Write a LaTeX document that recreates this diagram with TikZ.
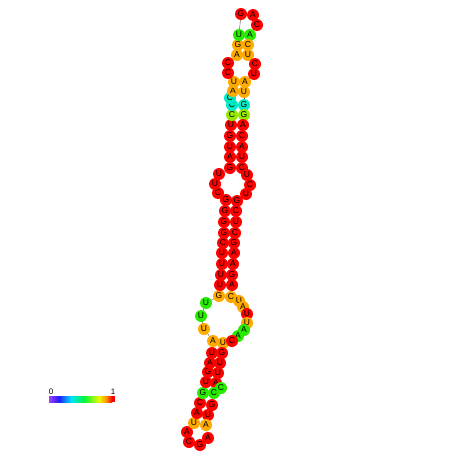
\documentclass[tikz,border=0pt]{standalone}
\usepackage{fontspec}
\setmainfont{Liberation Sans}
\usetikzlibrary{backgrounds}
\definecolor{cR}{RGB}{255,0,0}
\definecolor{cO}{RGB}{255,170,0}
\definecolor{cG}{RGB}{40,235,0}
\definecolor{cC}{RGB}{0,235,195}
\definecolor{cY}{RGB}{150,230,0}
\definecolor{cV}{RGB}{165,60,255}
\definecolor{cB}{RGB}{30,30,255}
\definecolor{cCy}{RGB}{0,225,255}
\definecolor{cGr}{RGB}{0,245,60}
\definecolor{cYe}{RGB}{235,250,0}
\definecolor{cOr}{RGB}{255,150,0}
\tikzset{
  nt/.style={circle, inner sep=0pt, minimum size=12pt, text=black,
    font=\fontsize{8.5}{8.5}\selectfont},
  bond/.style={draw=black!70, line width=0.4pt},
  lbl/.style={font=\fontsize{8}{8}\selectfont, inner sep=0pt}
}
\begin{document}
\begin{tikzpicture}[x=1pt,y=-1pt]
\useasboundingbox (0,0) rectangle (452,452);
\foreach \n/\x/\y/\c/\t in {
1/223/343/cO/U, 2/222/353/cR/G, 3/220/363/cR/U, 4/218/373/cR/U, 5/216/383/cR/A,
6/221/388/cG/C, 7/214/393/cG/C, 8/212/405/cR/G, 9/208/415/cR/U, 10/206/425/cO/A,
11/208/438/cR/A, 12/200/445/cR/G, 13/189/442/cR/C, 14/187/432/cR/A, 15/194/423/cO/U,
16/197/413/cR/A, 17/200/403/cR/C, 18/203/393/cG/G, 19/206/382/cR/U, 20/208/372/cR/G,
21/210/363/cR/A, 22/212/353/cR/U, 23/213/341/cO/A, 24/204/329/cO/U, 25/201/316/cG/U,
26/206/303/cG/U, 27/219/296/cO/G, 28/220/285/cR/U, 29/221/275/cR/U, 30/222/264/cR/U,
31/222/253/cR/U, 32/223/243/cR/C, 33/224/233/cR/G, 34/224/222/cR/G, 35/225/211/cR/G,
36/226/200/cR/G, 37/218/193/cR/C, 38/215/184/cR/U, 39/219/174/cR/U, 40/230/168/cR/G,
41/230/157/cR/A, 42/230/147/cR/U, 43/230/136/cR/G, 44/231/125/cR/U, 45/232/115/cY/C,
46/232/105/cC/C, 47/230/98/cC/C, 48/233/91/cO/A, 49/234/82/cO/U, 50/228/73/cR/C,
51/228/63/cR/C, 52/237/55/cO/A, 53/238/45/cO/G, 54/239/35/cG/U, 55/241/14/cR/G,
56/253/15/cR/A, 57/257/25/cR/C, 58/250/35/cG/A, 59/248/45/cO/C, 60/248/55/cO/U,
61/255/64/cR/C, 62/254/74/cR/U, 63/245/82/cO/A, 64/244/92/cO/U, 65/244/105/cC/G,
66/244/115/cY/G, 67/243/125/cR/A, 68/242/136/cR/C, 69/242/147/cR/A, 70/242/157/cR/U,
71/242/168/cR/C, 72/247/175/cR/U, 73/250/185/cR/C, 74/246/194/cR/U, 75/237/201/cR/G,
76/236/211/cR/C, 77/236/222/cR/U, 78/235/233/cR/C, 79/234/243/cR/G, 80/234/253/cR/A,
81/233/264/cR/A, 82/232/275/cR/G, 83/232/285/cR/A, 84/231/297/cO/C, 85/239/301/cO/U,
86/243/307/cO/A, 87/247/314/cR/U, 88/247/323/cO/U, 89/244/330/cG/A, 90/238/336/cG/A,
91/232/341/cR/C}
  \node[nt, fill=\c] (n\n) at (\x,\y) {\t};
\begin{scope}[on background layer]
\foreach \i [evaluate=\i as \j using int(\i+1)] in {1,...,90}
  \draw[bond] (n\i.center) -- (n\j.center);
\foreach \a/\b in {1/23,2/22,3/21,4/20,5/19,7/18,8/17,9/16,10/15,
  27/84,28/83,29/82,30/81,31/80,32/79,33/78,34/77,35/76,36/75,
  40/71,41/70,42/69,43/68,44/67,45/66,46/65,48/64,49/63,
  52/60,53/59,54/58}
  \draw[bond] (n\a.center) -- (n\b.center);
\end{scope}
% colour bar
\shade[left color=cV, right color=cB] (49,396) rectangle (59,402);
\shade[left color=cB, right color=cCy] (59,396) rectangle (71,402);
\shade[left color=cCy, right color=cGr] (71,396) rectangle (84,402);
\shade[left color=cGr, right color=cYe] (84,396) rectangle (99,402);
\shade[left color=cYe, right color=cOr] (99,396) rectangle (106,402);
\shade[left color=cOr, right color=cR] (106,396) rectangle (112,402);
\fill[cR] (112,396) rectangle (115,402);
\node[lbl] (l0) at (51,392) {0};
\node[lbl] (l1) at (113,392) {1};
\end{tikzpicture}
\end{document}
